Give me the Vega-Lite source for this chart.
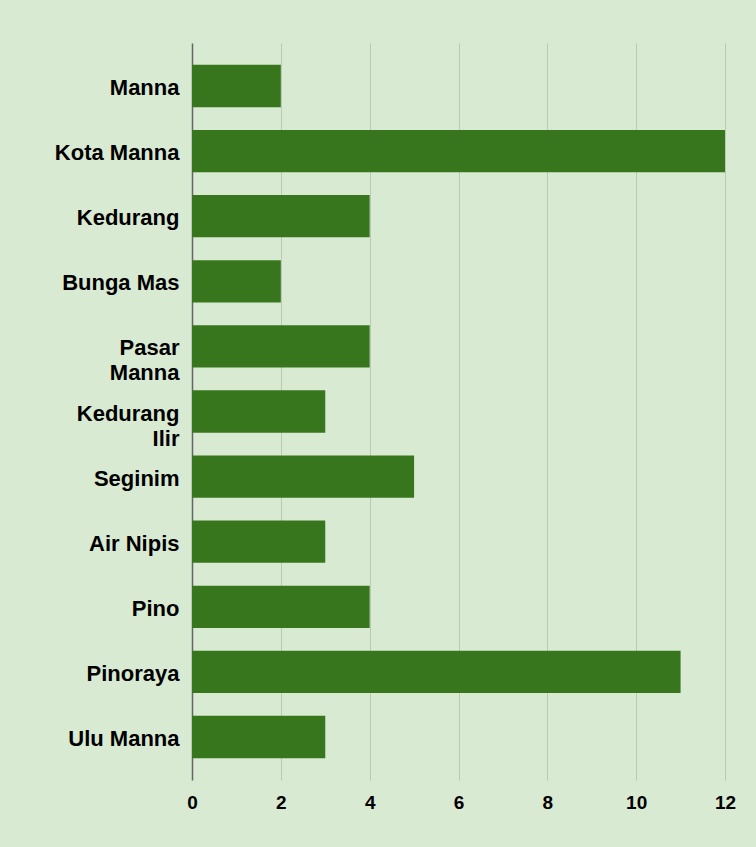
{
  "$schema": "https://vega.github.io/schema/vega-lite/v6.json",
  "width": 533,
  "height": 737,
  "autosize": {"type": "none"},
  "padding": {"left": 192, "top": 43, "right": 31, "bottom": 67},
  "background": "#d9ead3",
  "config": {
    "view": {"stroke": null},
    "font": "Liberation Sans"
  },
  "data": {
    "values": [
      {"kecamatan": "Manna", "jumlah": 2},
      {"kecamatan": "Kota Manna", "jumlah": 12},
      {"kecamatan": "Kedurang", "jumlah": 4},
      {"kecamatan": "Bunga Mas", "jumlah": 2},
      {"kecamatan": "Pasar Manna", "jumlah": 4},
      {"kecamatan": "Kedurang Ilir", "jumlah": 3},
      {"kecamatan": "Seginim", "jumlah": 5},
      {"kecamatan": "Air Nipis", "jumlah": 3},
      {"kecamatan": "Pino", "jumlah": 4},
      {"kecamatan": "Pinoraya", "jumlah": 11},
      {"kecamatan": "Ulu Manna", "jumlah": 3}
    ]
  },
  "mark": {"type": "bar", "color": "#38761d"},
  "encoding": {
    "y": {
      "field": "kecamatan",
      "type": "nominal",
      "sort": null,
      "title": null,
      "scale": {"paddingInner": 0.35, "paddingOuter": 0.335},
      "axis": {
        "domainColor": "#666666",
        "domainWidth": 1.5,
        "ticks": false,
        "labelPadding": 13,
        "labelOffset": 2,
        "labelFontSize": 22,
        "labelFontWeight": "bold",
        "labelColor": "#000000",
        "labelLineHeight": 25,
        "labelLimit": 300,
        "labelExpr": "datum.label == 'Pasar Manna' ? ['Pasar', 'Manna'] : (datum.label == 'Kedurang Ilir' ? ['Kedurang', 'Ilir'] : datum.label)"
      }
    },
    "x": {
      "field": "jumlah",
      "type": "quantitative",
      "title": null,
      "scale": {"domain": [0, 12]},
      "axis": {
        "values": [0, 2, 4, 6, 8, 10, 12],
        "domain": false,
        "ticks": false,
        "grid": true,
        "gridColor": "#b9c9b3",
        "gridWidth": 1,
        "labelPadding": 13,
        "labelFontSize": 19,
        "labelFontWeight": "bold",
        "labelColor": "#000000",
        "labelFlush": false
      }
    }
  }
}
